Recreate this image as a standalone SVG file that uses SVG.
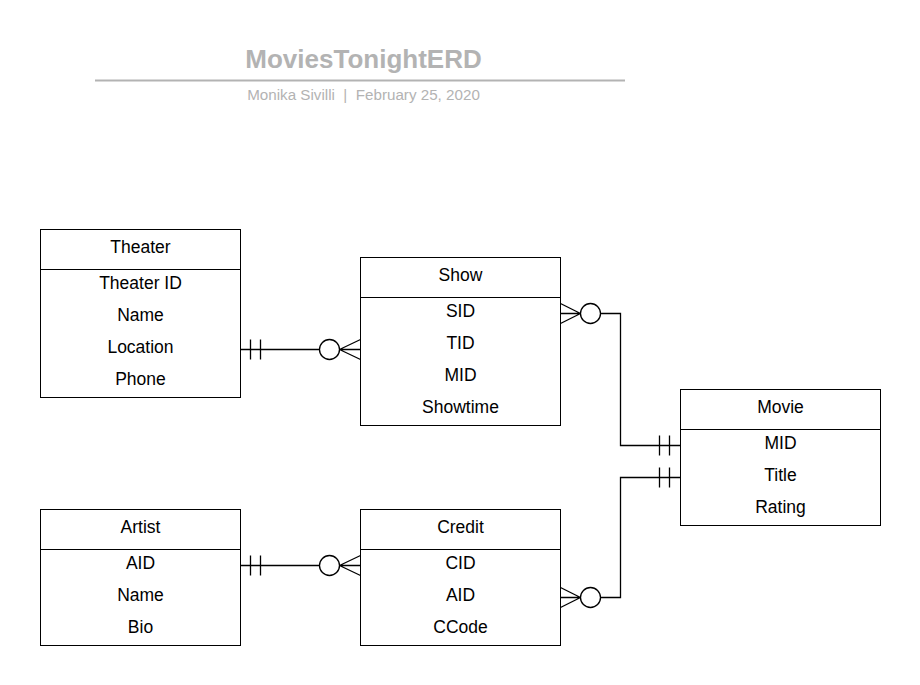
<svg xmlns="http://www.w3.org/2000/svg" width="920" height="685" viewBox="0 0 920 685">
<style>
.box{fill:#fff;stroke:#000;stroke-width:1}
.sep{stroke:#000;stroke-width:1}
.t{font-family:"Liberation Sans",Arial,sans-serif;font-size:17.5px;fill:#000;text-anchor:middle}
.c{fill:none;stroke:#000;stroke-width:1.3}
.title{font-family:"Liberation Sans",Arial,sans-serif;font-size:26px;font-weight:bold;fill:#b3b3b3;text-anchor:middle}
.sub{font-family:"Liberation Sans",Arial,sans-serif;font-size:15.2px;fill:#b3b3b3;text-anchor:middle;white-space:pre}
</style>
<rect width="920" height="685" fill="#fff"/>
<g id="title">
<text class="title" x="363.5" y="67.5">MoviesTonightERD</text>
<line x1="95" y1="80.5" x2="625" y2="80.5" stroke="#b3b3b3" stroke-width="2"/>
<text class="sub" x="363.5" y="100" xml:space="preserve">Monika Sivilli  |  February 25, 2020</text>
</g>
<g id="theater">
<rect class="box" x="40.5" y="229.5" width="200" height="168"/>
<line class="sep" x1="40.5" y1="269.5" x2="240.5" y2="269.5"/>
<text class="t" x="140.5" y="253">Theater</text>
<text class="t" x="140.5" y="289">Theater ID</text>
<text class="t" x="140.5" y="321">Name</text>
<text class="t" x="140.5" y="353">Location</text>
<text class="t" x="140.5" y="385">Phone</text>
</g>
<g id="show">
<rect class="box" x="360.5" y="257.5" width="200" height="168"/>
<line class="sep" x1="360.5" y1="297.5" x2="560.5" y2="297.5"/>
<text class="t" x="460.5" y="281">Show</text>
<text class="t" x="460.5" y="317">SID</text>
<text class="t" x="460.5" y="349">TID</text>
<text class="t" x="460.5" y="381">MID</text>
<text class="t" x="460.5" y="413">Showtime</text>
</g>
<g id="movie">
<rect class="box" x="680.5" y="389.5" width="200" height="136"/>
<line class="sep" x1="680.5" y1="429.5" x2="880.5" y2="429.5"/>
<text class="t" x="780.5" y="413">Movie</text>
<text class="t" x="780.5" y="449">MID</text>
<text class="t" x="780.5" y="481">Title</text>
<text class="t" x="780.5" y="513">Rating</text>
</g>
<g id="artist">
<rect class="box" x="40.5" y="509.5" width="200" height="136"/>
<line class="sep" x1="40.5" y1="549.5" x2="240.5" y2="549.5"/>
<text class="t" x="140.5" y="533">Artist</text>
<text class="t" x="140.5" y="569">AID</text>
<text class="t" x="140.5" y="601">Name</text>
<text class="t" x="140.5" y="633">Bio</text>
</g>
<g id="credit">
<rect class="box" x="360.5" y="509.5" width="200" height="136"/>
<line class="sep" x1="360.5" y1="549.5" x2="560.5" y2="549.5"/>
<text class="t" x="460.5" y="533">Credit</text>
<text class="t" x="460.5" y="569">CID</text>
<text class="t" x="460.5" y="601">AID</text>
<text class="t" x="460.5" y="633">CCode</text>
</g>
<g id="connectors">
<path class="c" d="M240.5 349.5 H319.5 M339.5 349.5 H360.5 M250.5 339.5 V359.5 M260.5 339.5 V359.5 M339.5 349.5 L360.5 339.5 M339.5 349.5 L360.5 359.5"/>
<circle class="c" cx="329.5" cy="349.5" r="10"/>
<path class="c" d="M240.5 565.5 H319.5 M339.5 565.5 H360.5 M250.5 555.5 V575.5 M260.5 555.5 V575.5 M339.5 565.5 L360.5 555.5 M339.5 565.5 L360.5 575.5"/>
<circle class="c" cx="329.5" cy="565.5" r="10"/>
<path class="c" d="M560.5 313.5 H580.5 M580.5 313.5 L560.5 303.5 M580.5 313.5 L560.5 323.5 M600.5 313.5 H620.5 V445.5 H680.5 M659.5 435.5 V455.5 M669.5 435.5 V455.5"/>
<circle class="c" cx="590.5" cy="313.5" r="10"/>
<path class="c" d="M560.5 597.5 H580.5 M580.5 597.5 L560.5 587.5 M580.5 597.5 L560.5 607.5 M600.5 597.5 H620.5 V477.5 H680.5 M659.5 467.5 V487.5 M669.5 467.5 V487.5"/>
<circle class="c" cx="590.5" cy="597.5" r="10"/>
</g>
</svg>
